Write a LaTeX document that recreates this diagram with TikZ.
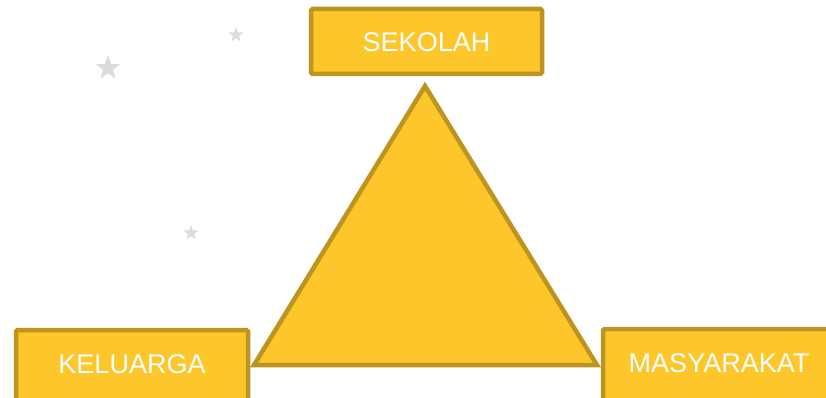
\documentclass[tikz,border=0pt]{standalone}
\usepackage{fontspec}
\setmainfont{Liberation Sans}
\usetikzlibrary{shapes.geometric}
\definecolor{gold}{HTML}{FDC62B}
\definecolor{goldline}{HTML}{BE9421}
\definecolor{stargray}{HTML}{DCDCDC}
\tikzset{
  label box/.style={draw=goldline, fill=gold, line width=4.5pt, rounded corners=1.5pt},
  label text/.style={text=white, font=\fontsize{27}{31}\selectfont, inner sep=0pt},
  deco star/.style={star, star points=5, star point ratio=2.5, fill=stargray, draw=none, inner sep=0pt},
}
\begin{document}
\begin{tikzpicture}[x=1pt, y=-1pt]
\useasboundingbox (0,0) rectangle (826,398);
% background stars
\node[deco star, minimum size=26pt] (s1) at (108,68) {};
\node[deco star, minimum size=16pt] (s2) at (236,35) {};
\node[deco star, minimum size=16pt] (s3) at (191,233) {};
% central triangle
\draw[draw=goldline, fill=gold, line width=4.5pt, line join=miter]
  (425,86) coordinate (apex) -- (597,365) coordinate (right) -- (254,365) coordinate (left) -- cycle;
% boxes
\draw[label box] (311,9) rectangle (542,74);
\draw[label box] (16,330) rectangle (248,410);
\draw[label box] (603,329) rectangle (840,410);
% labels
\node[label text] (sekolah) at (426.5,42.5) {SEKOLAH};
\node[label text] (keluarga) at (132,364) {KELUARGA};
\node[label text] (masyarakat) at (719,363) {MASYARAKAT};
\end{tikzpicture}
\end{document}
